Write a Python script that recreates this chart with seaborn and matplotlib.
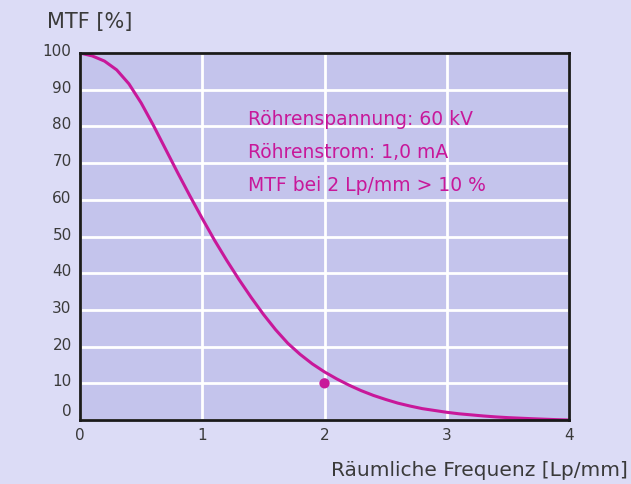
import numpy as np
import pandas as pd
import seaborn as sns
import matplotlib.pyplot as plt
from matplotlib.transforms import ScaledTranslation

# MTF curve (every 0.1 Lp/mm)
freq = [0.0, 0.1, 0.2, 0.3, 0.4, 0.5, 0.6, 0.7, 0.8, 0.9,
        1.0, 1.1, 1.2, 1.3, 1.4, 1.5, 1.6, 1.7, 1.8, 1.9,
        2.0, 2.1, 2.2, 2.3, 2.4, 2.5, 2.6, 2.7, 2.8, 2.9,
        3.0, 3.1, 3.2, 3.3, 3.4, 3.5, 3.6, 3.7, 3.8, 3.9, 4.0]
mtf = [100, 99.2, 97.8, 95.4, 91.6, 86.4, 80.3, 73.8, 67.3, 61.0,
       54.9, 49.0, 43.5, 38.3, 33.4, 28.8, 24.6, 20.9, 17.9, 15.3,
       13.1, 11.2, 9.5, 8.0, 6.7, 5.6, 4.6, 3.8, 3.1, 2.6,
       2.1, 1.7, 1.4, 1.1, 0.85, 0.65, 0.5, 0.35, 0.22, 0.1, 0]
spec_x = [2]
spec_y = [10]
info_lines = ["Röhrenspannung: 60 kV", "Röhrenstrom: 1,0 mA", "MTF bei 2 Lp/mm > 10 %"]

df = pd.DataFrame({"freq": freq, "mtf": mtf})

sns.set_theme(style="white")
plt.rcParams['font.family'] = ['DejaVu Sans']

bg = "#dcdcf6"
axbg = "#c4c4ec"
magenta = "#c8189a"
txt = "#3a3a3a"

fig = plt.figure(figsize=(6.31, 4.84), dpi=100, facecolor=bg)
ax = fig.add_axes([0.1268, 0.1322, 0.7750, 0.7583])
ax.set_facecolor(axbg)

sns.lineplot(data=df, x="freq", y="mtf", ax=ax, color=magenta, lw=2.2)
sns.scatterplot(x=spec_x, y=spec_y, ax=ax, color=magenta, s=55, edgecolor="none", zorder=5)

ax.set_xlim(0, 4)
ax.set_ylim(0, 100)
ax.set_xticks([0, 1, 2, 3, 4])
ax.set_yticks(range(0, 101, 10))
ax.grid(True, color="white", lw=2)
ax.set_axisbelow(True)
for s in ax.spines.values():
    s.set_color("#1a1a1a")
    s.set_linewidth(2)
    s.set_visible(True)
ax.tick_params(length=0, labelsize=11, colors=txt, pad=6)
ax.set_xlabel("")
ax.set_ylabel("")

# y labels sit slightly above their grid lines
for t in ax.get_yticklabels():
    dy = 10 if t.get_text() == "0" else 3
    t.set_transform(t.get_transform() + ScaledTranslation(0, dy / 100, fig.dpi_scale_trans))

for i, line in enumerate(info_lines):
    ax.text(1.37, 82 - i * 9, line, color=magenta, fontsize=13.5, va="center", ha="left")

fig.text(47 / 631, 1 - 22 / 484, "MTF [%]", fontsize=15, color=txt, va="center", ha="left")
fig.text(628 / 631, 1 - 470 / 484, "Räumliche Frequenz [Lp/mm]", fontsize=14.5, color=txt,
         va="center", ha="right")

fig.savefig("out.png", dpi=100, facecolor=bg)
